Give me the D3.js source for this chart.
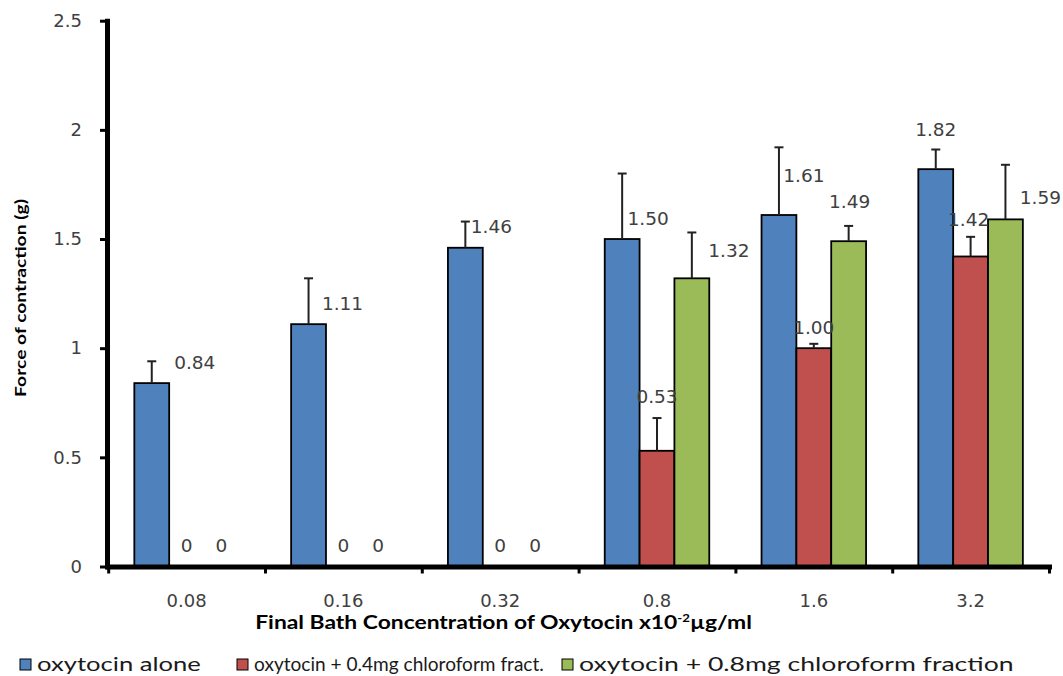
<!DOCTYPE html>
<html>
<head>
<meta charset="utf-8">
<script src="https://cdn.jsdelivr.net/npm/d3@7"></script>
<style>
  body { margin: 0; background: #ffffff; }
  svg { display: block; }
</style>
</head>
<body>
<svg id="chart" width="1063" height="676"></svg>
<script>
// ---- data ----
const categories = ["0.08", "0.16", "0.32", "0.8", "1.6", "3.2"];
const seriesNames = [
  "oxytocin alone",
  "oxytocin + 0.4mg chloroform fract.",
  "oxytocin + 0.8mg chloroform fraction"
];
const oxytocinAlone = [0.84, 1.11, 1.46, 1.50, 1.61, 1.82];
const plus04mg      = [0, 0, 0, 0.53, 1.00, 1.42];
const plus08mg      = [0, 0, 0, 1.32, 1.49, 1.59];
const errAlone      = [0.10, 0.21, 0.12, 0.30, 0.31, 0.09];
const err04mg       = [0, 0, 0, 0.15, 0.02, 0.09];
const err08mg       = [0, 0, 0, 0.21, 0.07, 0.25];
const yTicks        = [0, 0.5, 1, 1.5, 2, 2.5];

// ---- styling / layout ----
const colors = ["#4F81BD", "#C0504D", "#9BBB59"];
// hand-placed value-label nudges [dx, dy] in px, per series and category
const labelNudge = [
  [[43, 0], [34, 0], [26, 0], [26, 0], [25, -19], [0, -19]],
  [[0, 0], [0, 0], [0, 0], [0, -33], [0, 0], [-2, -16]],
  [[0, 0], [0, 0], [0, 0], [37, -7], [1, -19], [35, -1]]
];
// legend entry boxes: [square x, text width]
const legendSlots = [[20, 164], [237, 290], [562, 435]];

const values = [oxytocinAlone, plus04mg, plus08mg];
const errors = [errAlone, err04mg, err08mg];

const svg = d3.select("#chart");
const plot = { left: 108.2, right: 1049, top: 20.7, bottom: 566.5 };
const axisX = 107;

const y = d3.scaleLinear().domain([0, 2.5]).range([plot.bottom, plot.top]);
const x0 = d3.scaleBand().domain(categories).range([plot.left, plot.right]).padding(0);
const x1 = d3.scaleBand().domain(d3.range(3)).range([0, x0.bandwidth()])
  .paddingInner(0).paddingOuter(0.75);
const xBound = d3.scaleLinear().domain([0, categories.length]).range([plot.left, plot.right]);

const rows = [];
values.forEach((arr, s) => arr.forEach((v, i) => rows.push({
  s, i, cat: categories[i], v, e: errors[s][i], nudge: labelNudge[s][i]
})));
const cx = d => x0(d.cat) + x1(d.s) + x1.bandwidth() / 2;

// ---- bars ----
svg.append("g").selectAll("rect")
  .data(rows.filter(d => d.v > 0))
  .join("rect")
  .attr("x", d => x0(d.cat) + x1(d.s))
  .attr("y", d => y(d.v))
  .attr("width", x1.bandwidth())
  .attr("height", d => y(0) - y(d.v))
  .attr("fill", d => colors[d.s])
  .attr("stroke", "#000")
  .attr("stroke-width", 1.8);

// ---- error bars (upper only) ----
const eb = svg.append("g").attr("stroke", "#222").attr("stroke-width", 2);
const withErr = rows.filter(d => d.e > 0);
eb.selectAll("line.stem").data(withErr).join("line").attr("class", "stem")
  .attr("x1", cx).attr("x2", cx)
  .attr("y1", d => y(d.v)).attr("y2", d => y(d.v + d.e));
eb.selectAll("line.cap").data(withErr).join("line").attr("class", "cap")
  .attr("x1", d => cx(d) - 4.5).attr("x2", d => cx(d) + 4.5)
  .attr("y1", d => y(d.v + d.e)).attr("y2", d => y(d.v + d.e));

// ---- axes ----
const yAxis = svg.append("g")
  .attr("transform", `translate(${axisX},0)`)
  .call(d3.axisLeft(y).tickValues(yTicks).tickSize(7).tickSizeOuter(0)
    .tickPadding(18).tickFormat(d => String(d)));
yAxis.select(".domain").attr("stroke", "#000").attr("stroke-width", 5)
  .attr("stroke-linecap", "square");
yAxis.selectAll(".tick line").attr("stroke", "#000").attr("stroke-width", 3);
yAxis.selectAll(".tick text")
  .attr("font-family", "DejaVu Sans").attr("font-size", 18).attr("fill", "#404040");

const xTicks = svg.append("g")
  .attr("transform", `translate(0,${plot.bottom})`)
  .call(d3.axisBottom(xBound).tickValues(d3.range(categories.length + 1))
    .tickSize(7).tickSizeOuter(0).tickFormat(""));
xTicks.select(".domain").attr("stroke", "#000").attr("stroke-width", 5)
  .attr("stroke-linecap", "square");
xTicks.selectAll(".tick line").attr("stroke", "#000").attr("stroke-width", 3);

const xLabels = svg.append("g")
  .attr("transform", `translate(0,${plot.bottom})`)
  .call(d3.axisBottom(x0).tickSize(0).tickPadding(28));
xLabels.select(".domain").remove();
xLabels.selectAll(".tick text")
  .attr("font-family", "DejaVu Sans").attr("font-size", 18).attr("fill", "#404040");

// ---- value labels ----
svg.append("g").selectAll("text")
  .data(rows)
  .join("text")
  .attr("x", d => cx(d) + d.nudge[0])
  .attr("y", d => y(d.v) - 21 + d.nudge[1])
  .attr("dy", "0.36em")
  .attr("text-anchor", "middle")
  .attr("font-family", "DejaVu Sans")
  .attr("font-size", 18.5)
  .attr("fill", "#404040")
  .text(d => d.v === 0 ? "0" : d.v.toFixed(2));

// stretch a centred text horizontally to a given width
function fitCentered(sel, tx, ty, width, rotate) {
  const w = sel.node().getComputedTextLength();
  sel.attr("transform", `translate(${tx},${ty}) rotate(${rotate || 0}) scale(${width / w},1)`);
}

// ---- axis titles ----
const xTitle = svg.append("text")
  .attr("text-anchor", "middle").attr("dy", "0.36em")
  .attr("font-family", "Lato").attr("font-weight", "bold")
  .attr("font-size", 19).attr("fill", "#000");
xTitle.append("tspan").text("Final Bath Concentration of Oxytocin x10");
xTitle.append("tspan").attr("dy", -7).attr("font-size", 11).text("-2");
xTitle.append("tspan").attr("dy", 7).text("µg/ml");
fitCentered(xTitle, 503.5, 622, 497);

const yTitle = svg.append("text")
  .attr("text-anchor", "middle").attr("dy", "0.36em")
  .attr("font-family", "Lato").attr("font-weight", "bold")
  .attr("font-size", 16).attr("fill", "#000")
  .text("Force of contraction (g)");
fitCentered(yTitle, 20, 298, 198, -90);

// ---- legend ----
const legend = svg.append("g");
const sq = 11, sqGap = 6;
seriesNames.forEach((n, s) => {
  const [sx, tw] = legendSlots[s];
  legend.append("rect")
    .attr("x", sx).attr("y", 659).attr("width", sq).attr("height", sq)
    .attr("fill", colors[s]).attr("stroke", "#000").attr("stroke-width", 1);
  const t = legend.append("text")
    .attr("font-family", "Lato").attr("font-size", 20).attr("fill", "#1a1a1a").text(n);
  const w = t.node().getComputedTextLength();
  t.attr("transform", `translate(${sx + sq + sqGap},671) scale(${tw / w},1)`);
});
</script>
</body>
</html>
